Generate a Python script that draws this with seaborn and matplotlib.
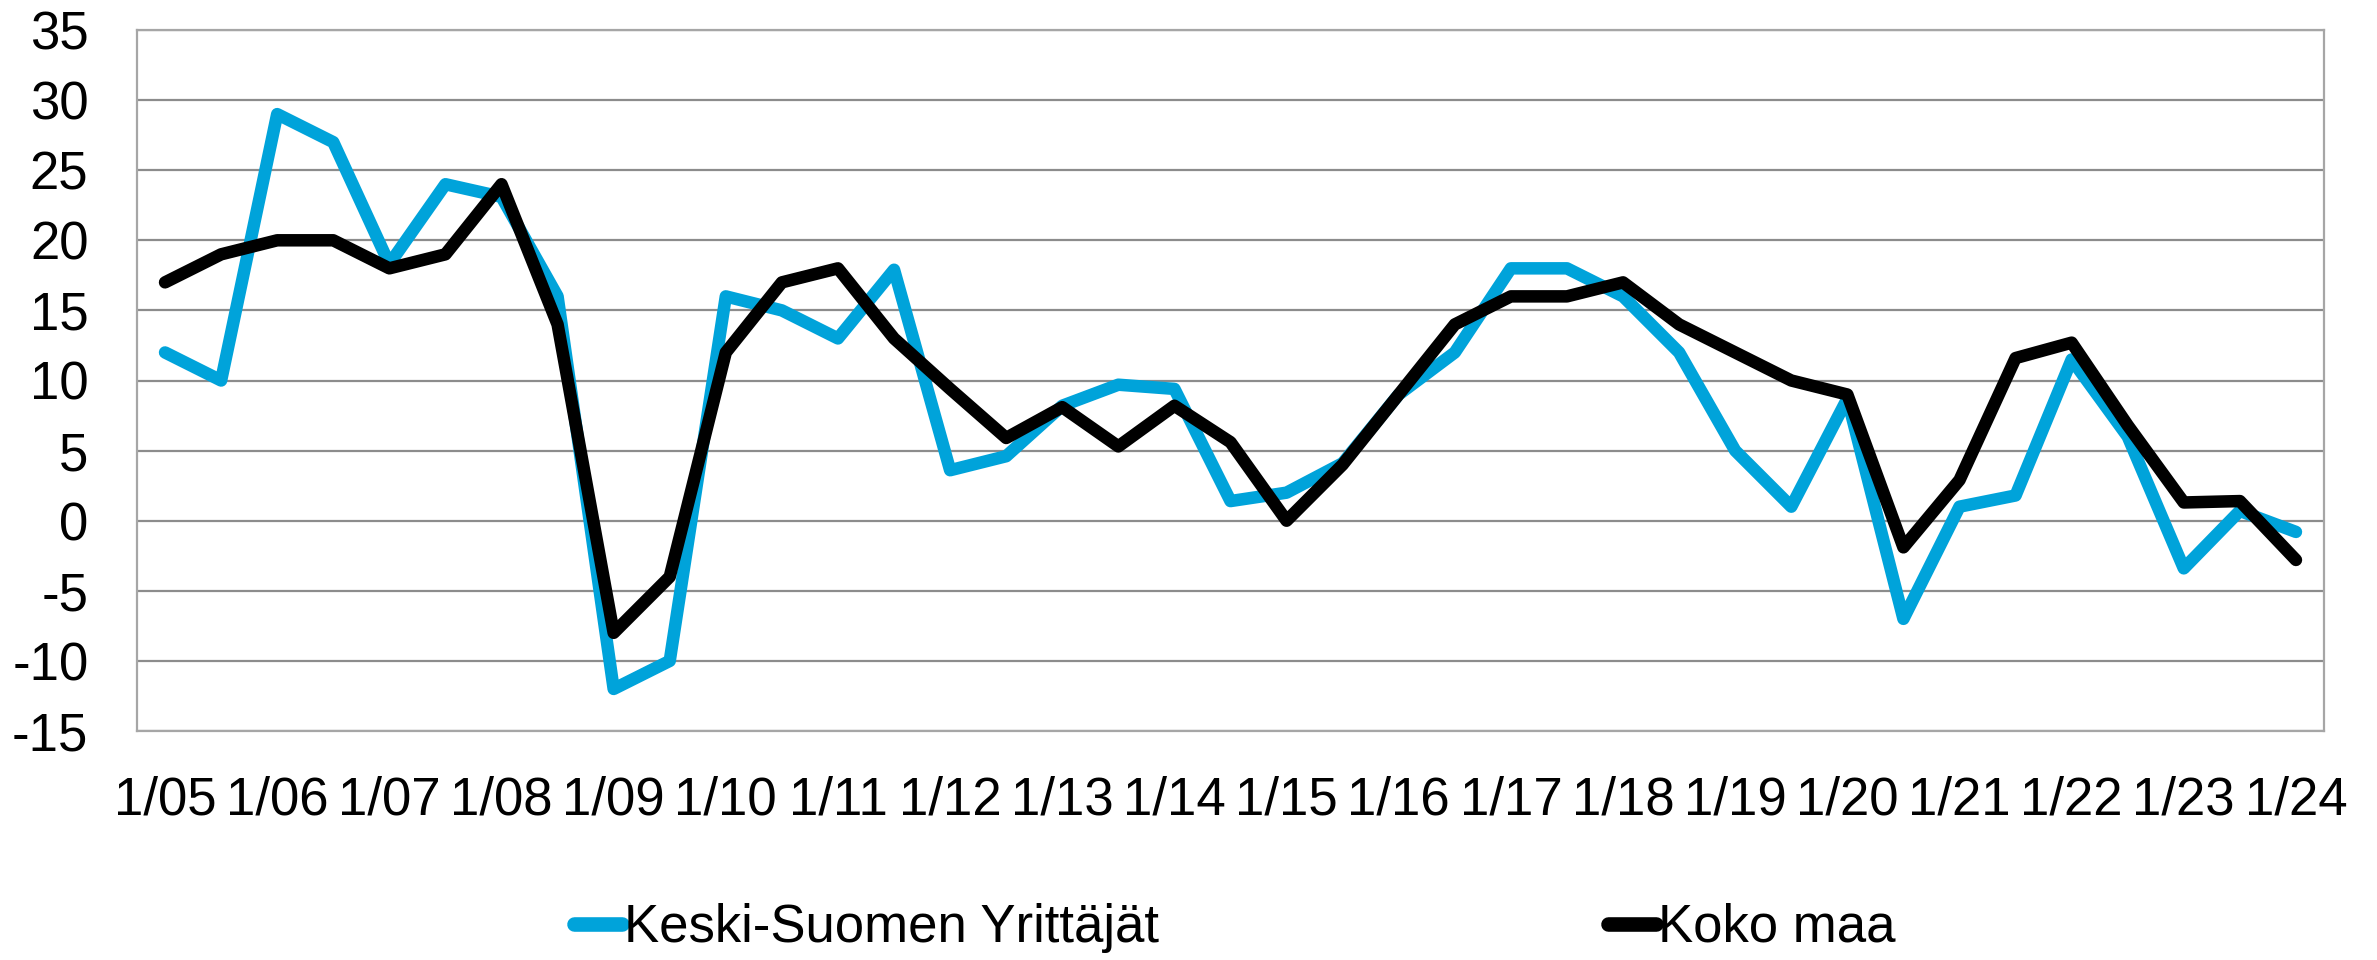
import pandas as pd
import numpy as np
import matplotlib
matplotlib.use("Agg")
import matplotlib.pyplot as plt
import seaborn as sns

# Data: half-year observations from 1/05 to 1/24
years = ["05", "06", "07", "08", "09", "10", "11", "12", "13", "14",
         "15", "16", "17", "18", "19", "20", "21", "22", "23", "24"]
tick_labels = ["1/" + y for y in years]

keski_suomi = [12, 10, 29, 27, 18.3, 24, 23.1, 16, -12, -10,
               16, 15, 13, 17.9, 3.6, 4.6, 8.2, 9.7, 9.4, 1.4,
               2, 4.1, 9, 12, 18, 18, 16, 12, 5, 1,
               8.7, -7, 1, 1.8, 11.5, 6, -3.4, 0.7, -0.8]
koko_maa = [17, 19, 20, 20, 18, 19, 24, 14, -8, -4,
            12, 17, 18, 13, 9.4, 5.9, 8.1, 5.3, 8.2, 5.6,
            0, 4, 9, 14, 16, 16, 17, 14, 12, 10,
            9, -1.9, 2.9, 11.6, 12.7, 6.8, 1.3, 1.4, -2.8]

series_names = ["Keski-Suomen Yrittäjät", "Koko maa"]
colors = ["#00A3DA", "#000000"]

df = pd.DataFrame({
    "idx": list(range(len(keski_suomi))) * 2,
    "value": keski_suomi + koko_maa,
    "series": [series_names[0]] * len(keski_suomi) + [series_names[1]] * len(koko_maa),
})

sns.set_style("white")
plt.rcParams['font.family'] = ['Liberation Sans', 'DejaVu Sans']
plt.rcParams['axes.unicode_minus'] = False
plt.rcParams['text.color'] = 'black'

fig = plt.figure(figsize=(23.77, 9.6), dpi=100)
ax = fig.add_axes([137 / 2377, 1 - 731 / 960, 2187 / 2377, 701 / 960])

sns.lineplot(data=df, x="idx", y="value", hue="series", palette=colors,
             ax=ax, sort=False, legend=True)
for line in ax.get_lines():
    line.set_linewidth(9)
    line.set_solid_joinstyle("round")
    line.set_solid_capstyle("round")

ax.set_xlim(-0.5, len(keski_suomi) - 0.5)
ax.set_ylim(-15, 35)
ax.set_yticks(np.arange(-15, 36, 5))
ax.set_xticks(np.arange(0, len(keski_suomi), 2))
ax.set_xticklabels(tick_labels)
ax.tick_params(axis="both", labelsize=38, length=0, colors="black")
ax.tick_params(axis="x", pad=32)
ax.tick_params(axis="y", pad=35)
ax.set_xlabel("")
ax.set_ylabel("")

ax.yaxis.grid(True, color="#8c8c8c", linewidth=1.6)
ax.xaxis.grid(False)
ax.set_axisbelow(True)
for sp in ax.spines.values():
    sp.set_visible(True)
    sp.set_color("#a6a6a6")
    sp.set_linewidth(1.6)

handles, labels = ax.get_legend_handles_labels()
ax.get_legend().remove()
legend_x = [574 / 2377, 1608 / 2377]
for h, lab, lx in zip(handles, labels, legend_x):
    h.set_linewidth(10.5)
    h.set_solid_capstyle("round")
    fig.legend([h], [lab], loc="center left", bbox_to_anchor=(lx, 1 - 928 / 960),
               fontsize=38, frameon=False, handlelength=0.9,
               handletextpad=0.05, borderpad=0, borderaxespad=0)

fig.savefig("out.png", dpi=100)
